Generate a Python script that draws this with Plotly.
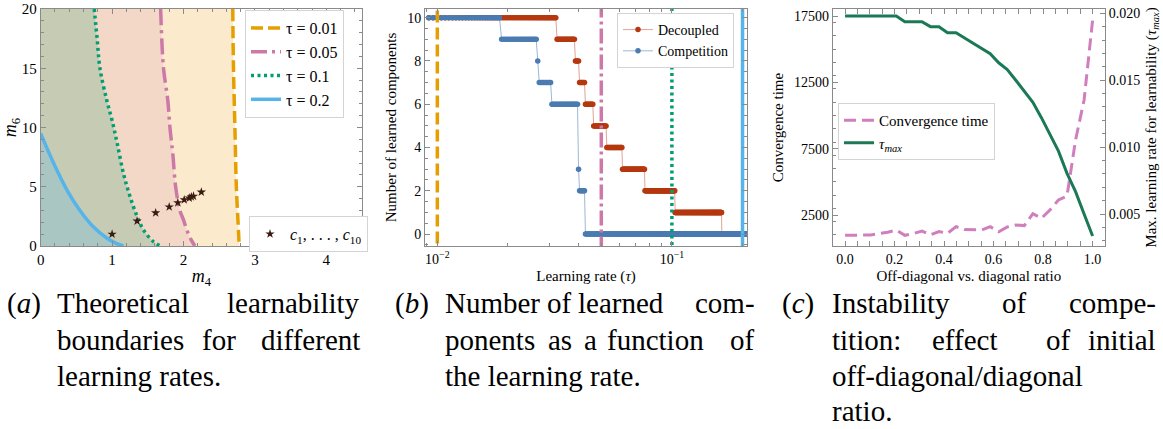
import numpy as np
import plotly.graph_objects as go

W, H = 1163, 429
SERIF = "Liberation Serif"

# ---------------- Panel (a): learnability boundaries ----------------
tau_labels = ["τ = 0.01", "τ = 0.05", "τ = 0.1", "τ = 0.2"]
b001_m4 = [2.69, 2.70, 2.72, 2.74, 2.76, 2.78]
b001_m6 = [20, 15, 10, 5, 2.5, 0]
b005_m4 = [1.68, 1.72, 1.78, 1.81, 1.85, 1.89, 1.95, 2.00, 2.05, 2.10, 2.16]
b005_m6 = [20, 15, 12.3, 10, 7.8, 5.0, 3.0, 2.2, 1.3, 0.6, 0]
b01_m4 = [0.75, 0.79, 0.83, 0.925, 1.0, 1.07, 1.16, 1.25, 1.35, 1.44, 1.58, 1.68]
b01_m6 = [20, 17.5, 15, 12.3, 10.6, 8.7, 6.1, 4.2, 2.5, 1.35, 0.36, 0]
b02_m4 = [0, 0.18, 0.37, 0.55, 0.74, 0.93, 1.05, 1.16]
b02_m6 = [9.5, 7.0, 4.7, 3.0, 1.6, 0.65, 0.25, 0]
comp_m4 = [1.00, 1.35, 1.61, 1.80, 1.92, 2.01, 2.08, 2.11, 2.14, 2.25]
comp_m6 = [1.0, 2.1, 2.8, 3.3, 3.65, 3.9, 4.05, 4.15, 4.2, 4.55]

# ---------------- Panel (b): learned components vs learning rate ----------------
lr_sweep = np.linspace(0.0092, 0.2096, 502)          # learning-rate sweep grid
dec_levels = [10, 9, 8, 7, 6, 5, 4, 3, 2, 1, 0]
dec_drops = [0.0323, 0.0386, 0.0403, 0.0426, 0.0462, 0.0527, 0.0614, 0.0767, 0.103, 0.163]
com_levels = [10, 9, 8, 7, 6, 3, 2, 0]
com_drops = [0.0185, 0.0265, 0.0269, 0.0305, 0.0399, 0.0404, 0.0427]
tau_marks = [0.01, 0.05, 0.1, 0.2]

# ---------------- Panel (c): instability of competition ----------------
ratio = np.linspace(0, 1, 30)
conv_time = [970, 970, 970, 990, 1100, 1200, 1370, 970, 1100, 1290,
             1000, 1250, 1120, 1620, 1400, 1370, 1370, 1620, 1240, 1600,
             1740, 1700, 2600, 2250, 2880, 3630, 3930, 8150, 11170, 17200]
tau_max = [0.0198, 0.0198, 0.0198, 0.0198, 0.0198, 0.0198, 0.0198, 0.01937, 0.01937, 0.01937,
           0.0190, 0.0190, 0.01855, 0.01855, 0.01816, 0.01777, 0.01738, 0.01698, 0.0163, 0.0158,
           0.0150, 0.0142, 0.01335, 0.0122, 0.0109, 0.0097, 0.00804, 0.00667, 0.0050, 0.00336]

C_OR, C_PK, C_GR, C_BL = "#E69F00", "#CC79A7", "#009E73", "#56B4E9"
C_DEC, C_COM = "#b5380f", "#4a7bb1"
C_CONV, C_TMAX = "#d07fbe", "#1b7a55"
FRAME = "#8a8a8a"

fig = go.Figure()

# fills (panel a)
fills = ["#fbebcc", "#f3d8c8", "#c6ccb4", "#a9c6c3"]
curves = [(b001_m4, b001_m6, C_OR, "12px,5px"),
          (b005_m4, b005_m6, C_PK, "16px,5px,3px,5px"),
          (b01_m4, b01_m6, C_GR, "3px,3.5px"),
          (b02_m4, b02_m6, C_BL, "solid")]
for (mx, my, c, d), fc in zip(curves, fills):
    fig.add_trace(go.Scatter(x=mx, y=my, mode="lines", line=dict(width=0, shape="spline"),
                             fill="tozerox", fillcolor=fc, showlegend=False, hoverinfo="skip",
                             xaxis="x", yaxis="y"))
for (mx, my, c, d), lab in zip(curves, tau_labels):
    fig.add_trace(go.Scatter(x=mx, y=my, mode="lines",
                             line=dict(color=c, width=3.5, dash=d, shape="spline"),
                             name=lab, legend="legend", xaxis="x", yaxis="y"))
fig.add_trace(go.Scatter(x=comp_m4, y=comp_m6, mode="markers",
                         marker=dict(symbol="star", size=7, color="#3b1a12"),
                         name="<i>c</i><sub>1</sub>, . . . , <i>c</i><sub>10</sub>",
                         legend="legend2", xaxis="x", yaxis="y"))

# panel b
dec = np.array(dec_levels)[np.searchsorted(dec_drops, lr_sweep, side="right")]
com = np.array(com_levels)[np.searchsorted(com_drops, lr_sweep, side="right")]
fig.add_trace(go.Scatter(x=lr_sweep, y=dec, mode="lines+markers", name="Decoupled",
                         line=dict(color="rgba(181,56,15,0.45)", width=1),
                         marker=dict(color=C_DEC, size=5.5), legend="legend3",
                         xaxis="x2", yaxis="y2"))
fig.add_trace(go.Scatter(x=lr_sweep, y=com, mode="lines+markers", name="Competition",
                         line=dict(color="rgba(74,123,177,0.55)", width=1),
                         marker=dict(color=C_COM, size=5.5), legend="legend3",
                         xaxis="x2", yaxis="y2"))
for v, c, d in zip(tau_marks, [C_OR, C_PK, C_GR, C_BL],
                   ["12px,5px", "15px,4px,3px,4px", "3px,3.5px", "solid"]):
    fig.add_trace(go.Scatter(x=[v, v], y=[-2, 12], mode="lines", line=dict(color=c, width=3.5, dash=d),
                             showlegend=False, hoverinfo="skip", xaxis="x2", yaxis="y2"))

# panel c
fig.add_trace(go.Scatter(x=ratio, y=conv_time, mode="lines", name="Convergence time",
                         line=dict(color=C_CONV, width=3, dash="12px,6px"), legend="legend4",
                         xaxis="x3", yaxis="y3"))
fig.add_trace(go.Scatter(x=ratio, y=tau_max, mode="lines", name="<i>τ<sub>max</sub></i>",
                         line=dict(color=C_TMAX, width=3), legend="legend4",
                         xaxis="x3", yaxis="y4"))


def ax(fs=14, **kw):
    d = dict(showline=True, linecolor=FRAME, linewidth=1, mirror="allticks", ticks="inside",
             ticklen=5, tickcolor=FRAME, tickwidth=1, showgrid=False, zeroline=False,
             automargin=False, tickfont=dict(family=SERIF, size=fs, color="black"),
             title_font=dict(family=SERIF, size=15, color="black"))
    d.update(kw)
    return d


def minor(dt=None, vals=None):
    m = dict(ticks="inside", ticklen=3, tickcolor=FRAME, tickwidth=1, showgrid=False)
    if dt is not None:
        m["dtick"] = dt
    if vals is not None:
        m["tickvals"] = vals
    return m


ydom = [1 - 246 / H, 1 - 9 / H]
minor_log = [k * 10.0 ** e for e in (-3, -2, -1) for k in range(2, 10)]

fig.update_layout(
    width=W, height=H, margin=dict(l=0, r=0, t=0, b=0),
    paper_bgcolor="white", plot_bgcolor="white", template="none",
    font=dict(family=SERIF, color="black"),
    xaxis=ax(15, domain=[40.7 / W, 362 / W], range=[0, 4.5], tickvals=[0, 1, 2, 3, 4],
             minor=minor(0.2), anchor="y",
             title=dict(text="<i>m</i><sub>4</sub>", font=dict(family=SERIF, size=18), standoff=2)),
    yaxis=ax(15, domain=ydom, range=[0, 20], tickvals=[0, 5, 10, 15, 20], minor=minor(1),
             anchor="x", title=dict(text="<i>m</i><sub>6</sub>", font=dict(family=SERIF, size=18), standoff=4)),
    xaxis2=ax(14, domain=[425 / W, 747 / W], type="log",
              range=[np.log10(0.00886), np.log10(0.209)],
              tickvals=[0.01, 0.1], ticktext=["10<sup>−2</sup>", "10<sup>−1</sup>"],
              minor=minor(vals=minor_log), anchor="y2",
              title=dict(text="Learning rate (<i>τ</i>)", standoff=4)),
    yaxis2=ax(14, domain=ydom, range=[-0.55, 10.4], tickvals=[0, 2, 4, 6, 8, 10],
              minor=minor(0.5), anchor="x2",
              title=dict(text="Number of learned components", standoff=6)),
    xaxis3=ax(14, domain=[832.7 / W, 1105 / W], range=[-0.05, 1.05],
              tickvals=[0, 0.2, 0.4, 0.6, 0.8, 1.0], ticktext=["0.0", "0.2", "0.4", "0.6", "0.8", "1.0"],
              minor=minor(0.05), anchor="y3",
              title=dict(text="Off-diagonal vs. diagonal ratio", standoff=4)),
    yaxis3=ax(14, domain=ydom, range=[163, 18028], tickvals=[2500, 7500, 12500, 17500],
              ticktext=["2500", "7500", "12500", "17500"],
              minor=minor(1000), anchor="x3", mirror=False,
              title=dict(text="Convergence time", standoff=6)),
    yaxis4=ax(14, domain=ydom, range=[0.00261, 0.02032], tickvals=[0.005, 0.010, 0.015, 0.020],
              ticktext=["0.005", "0.010", "0.015", "0.020"], minor=minor(0.001),
              anchor="x3", overlaying="y3", side="right", mirror=False,
              title=dict(text="Max. learning rate for learnability (<i>τ<sub>max</sub></i>)", standoff=6)),
)

leg_common = dict(bgcolor="white", bordercolor="#d4d4d4", borderwidth=1,
                  xanchor="left", yanchor="top", tracegroupgap=0)
fig.update_layout(
    legend=dict(x=245 / W, y=1 - 10 / H, font=dict(family=SERIF, size=16), **leg_common),
    legend2=dict(x=249 / W, y=1 - 216 / H, font=dict(family=SERIF, size=16), **leg_common),
    legend3=dict(x=617 / W, y=1 - 13 / H, font=dict(family=SERIF, size=14), **leg_common),
    legend4=dict(x=838 / W, y=1 - 103 / H, font=dict(family=SERIF, size=15), **leg_common),
)

# captions: words placed to mimic LaTeX justified lines
CAP = [
    ("(<i>a</i>)", 5, 303, "left"), ("Theoretical", 55, 303, "left"), ("learnability", 362, 303, "right"),
    ("boundaries", 55, 340, "left"), ("for", 200, 340, "left"), ("different", 362, 340, "right"),
    ("learning rates.", 55, 376, "left"),
    ("(<i>b</i>)", 393, 303, "left"), ("Number", 443, 303, "left"), ("of", 545, 303, "left"),
    ("learned", 576, 303, "left"), ("com-", 757, 303, "right"),
    ("ponents", 443, 340, "left"), ("as", 546, 340, "left"), ("a", 582, 340, "left"),
    ("function", 605, 340, "left"), ("of", 757, 340, "right"),
    ("the learning rate.", 443, 376, "left"),
    ("(<i>c</i>)", 780, 303, "left"), ("Instability", 830, 303, "left"), ("of", 1000, 303, "left"),
    ("compe-", 1158, 303, "right"),
    ("tition:", 830, 340, "left"), ("effect", 930, 340, "left"), ("of", 1044, 340, "left"),
    ("initial", 1158, 340, "right"),
    ("off-diagonal/diagonal", 830, 376, "left"), ("ratio.", 830, 411, "left"),
]
for t, px, py, anc in CAP:
    fig.add_annotation(text=t, x=px / W, y=1 - py / H, xref="paper", yref="paper",
                       xanchor=anc, yanchor="middle", showarrow=False,
                       font=dict(family=SERIF, size=29, color="black"))

fig.write_html("out.html")
